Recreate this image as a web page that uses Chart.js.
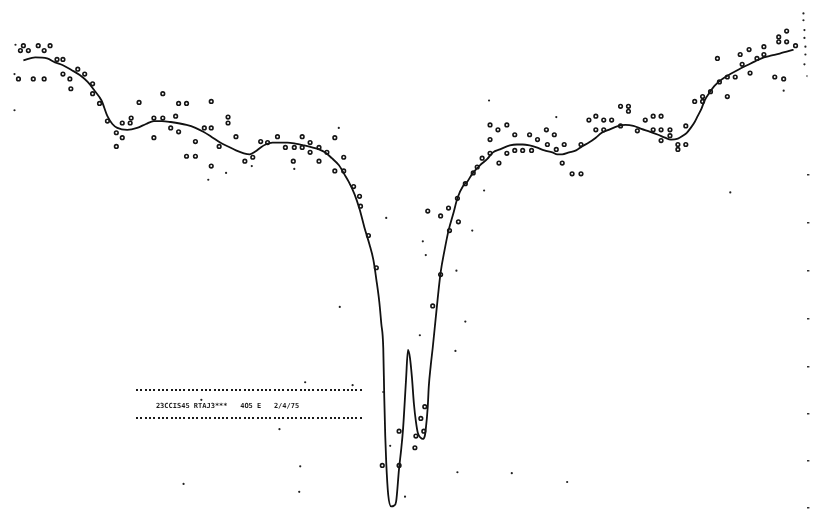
<!DOCTYPE html>
<html>
<head>
<meta charset="utf-8">
<script src="https://cdn.jsdelivr.net/npm/chart.js@4.4.1/dist/chart.umd.min.js"></script>
<style>
  html, body { margin: 0; padding: 0; background: #ffffff; }
  #wrap { width: 813px; height: 515px; }
</style>
</head>
<body>
<div id="wrap"><canvas id="spectrum" width="813" height="515"></canvas></div>
<script>
// Fitted transmission curve: channel vs. absorption (larger = deeper, plotted downward)
const fitChannel = [18,30,42,50,58,67,75,83,90,97,103,108,113,123,133,142,150,158,167,183,192,200,208,217,225,233,241,247,253,258,263,270,277,285,293,302,310,317,323,330,337,343,347,353,358,363,368,372,375,378,380,382,383,384,385,387,390,393,395,398,400,402,405,407,409,411,413,415,417,420,422,424,425,427,428,430,432,435,437,440,444,448,453,457,463,467,472,480,487,493,500,510,517,523,530,537,545,553,558,563,570,577,583,590,597,603,610,620,627,635,643,652,660,667,673,680,685,689,693,697,700,704,707,712,717,725,733,742,750,758,767,775,783,790,797];
const fitAbsorption = [56,53,54,58,61,66,71,78,87,97,113,121,125,127,125,121,118,118,119,122,125,129,134,140,144,148,151,152,149,145,142,140,140,140,141,143,145,147,150,156,163,173,180,193,208,227,244,260,280,303,325,350,400,440,467,500,512,511,507,473,455,433,383,352,360,380,407,425,437,442,443,440,433,410,390,368,350,320,300,273,250,230,212,197,184,180,172,163,157,150,147,143,142,142,143,145,148,150,152,152,150,148,144,140,135,130,127,123,122,123,126,129,132,135,137,136,133,130,125,119,113,105,97,89,82,75,70,65,61,57,53,51,49,47,45];

// Measured counts per channel
const obsChannel = [15,18,23,33,39,45,13,28,39,52,58,58,65,66,73,80,88,88,95,103,112,112,118,118,126,127,135,150,150,159,159,167,172,175,175,183,183,192,192,201,208,208,208,216,225,225,233,242,250,258,265,275,283,291,292,300,300,308,308,317,317,325,333,333,342,342,352,358,359,367,375,381,398,398,414,415,420,423,424,427,432,440,440,448,449,457,458,465,473,477,482,490,490,490,498,499,507,507,515,515,523,530,532,538,547,548,555,557,563,565,573,582,582,590,597,597,605,605,613,622,622,630,630,639,647,655,655,663,663,663,672,672,680,680,688,688,697,705,705,713,720,722,730,730,738,743,745,752,753,760,767,767,778,782,782,787,790,790,799];
const obsAbsorption = [46,41,46,41,46,41,75,75,75,55,55,70,75,85,65,70,80,90,100,118,130,144,120,135,120,115,99,115,135,90,115,125,113,100,129,100,154,139,154,125,98,125,164,144,114,120,134,159,155,139,140,134,145,159,145,134,145,140,150,145,159,150,135,169,155,169,185,195,205,235,268,470,435,470,452,440,422,435,410,210,307,215,275,207,230,197,221,182,171,165,156,122,137,151,127,161,122,151,132,148,148,132,148,137,127,142,132,147,161,142,172,142,172,117,113,127,117,127,117,103,123,103,108,128,117,113,127,113,127,138,127,133,142,147,123,142,98,93,98,88,54,78,73,93,73,50,60,45,69,54,42,50,73,32,37,75,26,37,41];

// Isolated single-count specks
const speckChannel = [10,9,9,205,223,249,292,337,385,338,351,382,389,404,419,422,425,455,456,457,465,472,484,489,557,733,180,298,297,512,568,787,807,807,808,808,809,809,808,811,198,303,277];
const speckAbsorption = [40,70,107,178,171,164,167,125,217,308,388,395,450,502,337,241,255,353,271,477,323,230,189,97,114,191,489,471,497,478,487,87,8,15,25,33,42,50,60,72,403,385,433];

// Right-hand scale marks
const rightTicks = [173,222,271,320,369,417,465,513];

const captionText = '23CCIS45 RTAJ3***   4O5 E   2/4/75';

const toPoints = (xs, ys) => xs.map((x, i) => ({ x: x, y: ys[i] }));

// Caption block with dotted rules above and below, anchored in data units
const captionPlugin = {
  id: 'caption',
  afterDatasetsDraw(chart, args, opts) {
    const { ctx, scales } = chart;
    const xs = scales.x, ys = scales.y;
    ctx.save();
    ctx.fillStyle = '#1a1a1a';
    const x0 = xs.getPixelForValue(opts.ruleFrom);
    const x1 = xs.getPixelForValue(opts.ruleTo);
    opts.ruleRows.forEach(r => {
      const py = ys.getPixelForValue(r);
      for (let px = x0; px <= x1; px += opts.dotStep) {
        ctx.fillRect(Math.round(px), Math.round(py) - 1, 2, 2);
      }
    });
    ctx.font = 'bold 7px "DejaVu Sans Mono", monospace';
    ctx.textBaseline = 'middle';
    ctx.fillText(opts.text, xs.getPixelForValue(opts.textX), ys.getPixelForValue(opts.textY));
    ctx.restore();
  }
};

new Chart(document.getElementById('spectrum'), {
  type: 'line',
  data: {
    datasets: [
      {
        label: 'fit',
        data: toPoints(fitChannel, fitAbsorption),
        borderColor: '#111111',
        borderWidth: 1.8,
        pointRadius: 0,
        cubicInterpolationMode: 'monotone',
        fill: false,
        order: 1
      },
      {
        type: 'scatter',
        label: 'counts',
        data: toPoints(obsChannel, obsAbsorption),
        showLine: false,
        pointStyle: 'circle',
        pointRadius: 1.8,
        pointBorderWidth: 1.6,
        borderColor: '#151515',
        backgroundColor: 'rgba(255,255,255,0)',
        order: 0
      },
      {
        type: 'scatter',
        label: 'specks',
        data: toPoints(speckChannel, speckAbsorption),
        showLine: false,
        pointStyle: 'circle',
        pointRadius: 1.1,
        pointBorderWidth: 0,
        borderColor: '#222222',
        backgroundColor: '#222222',
        order: 0
      }
    ]
  },
  options: {
    responsive: false,
    animation: false,
    devicePixelRatio: 1,
    layout: { padding: 0 },
    plugins: {
      legend: { display: false },
      tooltip: { enabled: false },
      caption: {
        text: captionText,
        textX: 152, textY: 409,
        ruleFrom: 132, ruleTo: 362, ruleRows: [393, 422],
        dotStep: 4.3
      }
    },
    scales: {
      x: { type: 'linear', min: 0, max: 811, display: false },
      y: { type: 'linear', min: 0, max: 515, reverse: true, display: false },
      y2: {
        type: 'linear', position: 'right', min: 0, max: 515, reverse: true,
        afterBuildTicks: scale => { scale.ticks = rightTicks.map(v => ({ value: v })); },
        border: { display: false },
        grid: { drawOnChartArea: false, drawTicks: true, tickLength: 2, color: '#333333', lineWidth: 1.5 },
        ticks: { display: false }
      }
    }
  },
  plugins: [captionPlugin]
});
</script>
</body>
</html>
